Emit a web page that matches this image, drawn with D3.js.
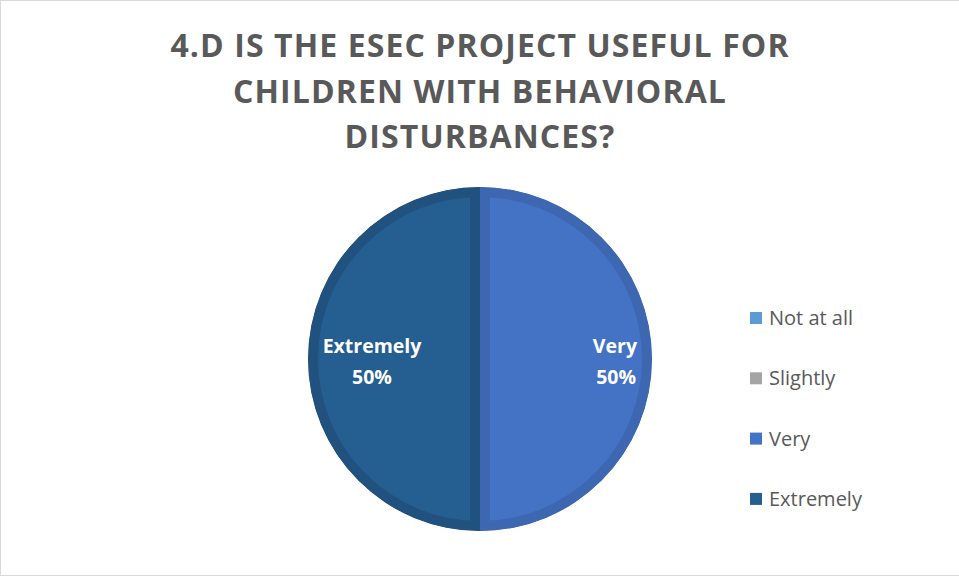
<!DOCTYPE html>
<html>
<head>
<meta charset="utf-8">
<script src="https://cdn.jsdelivr.net/npm/d3@7"></script>
<style>
  body { margin: 0; background: #fff; }
  svg { display: block; }
</style>
</head>
<body>
<div id="chart"></div>
<script>
const titleLines = ["4.D IS THE ESEC PROJECT USEFUL FOR", "CHILDREN WITH BEHAVIORAL", "DISTURBANCES?"];
const categories = ["Not at all", "Slightly", "Very", "Extremely"];
const values = [0, 0, 50, 50];
const fills = ["#5B9BD5", "#A5A5A5", "#4472C4", "#255E91"];
const edges = ["#5089BD", "#939393", "#3E67B1", "#21527F"];

const width = 959;
const height = 577;
const cx = 480, cy = 359, radius = 172;

const svg = d3.select("#chart")
  .append("svg")
  .attr("width", width)
  .attr("height", height);

svg.append("rect")
  .attr("x", 0.5).attr("y", 0.5)
  .attr("width", width).attr("height", 575)
  .attr("fill", "#fff")
  .attr("stroke", "#d9d9d9");

svg.append("g")
  .selectAll("text")
  .data(titleLines)
  .join("text")
  .attr("x", 480)
  .attr("y", (d, i) => 57 + i * 45.5)
  .attr("text-anchor", "middle")
  .attr("font-family", "'Open Sans', sans-serif")
  .attr("font-weight", "bold")
  .attr("font-size", 32)
  .attr("letter-spacing", 1.1)
  .attr("fill", "#595959")
  .text(d => d);

const data = categories.map((c, i) => ({ name: c, value: values[i], fill: fills[i], edge: edges[i] }));

// Excel starts at 12 o'clock and goes clockwise
const pie = d3.pie().sort(null).value(d => d.value);
const arcs = pie(data).filter(d => d.data.value > 0);

const arc = d3.arc().innerRadius(0).outerRadius(radius);

const g = svg.append("g").attr("transform", `translate(${cx},${cy})`);
const defs = svg.append("defs");

arcs.forEach((d, i) => {
  defs.append("clipPath")
    .attr("id", "clip" + i)
    .append("path")
    .attr("d", arc(d));
  g.append("path")
    .attr("d", arc(d))
    .attr("fill", d.data.fill)
    .attr("stroke", d.data.edge)
    .attr("stroke-width", 20)
    .attr("clip-path", `url(#clip${i})`);
});

// data labels
const labelPos = {
  "Very": { x: 157, anchor: "end" },
  "Extremely": { x: -108, anchor: "middle" }
};
const labels = g.append("g")
  .selectAll("text")
  .data(arcs)
  .join("text")
  .attr("text-anchor", d => labelPos[d.data.name].anchor)
  .attr("font-family", "'Open Sans', sans-serif")
  .attr("font-weight", "bold")
  .attr("font-size", 19.5)
  .attr("fill", "#fff");
labels.append("tspan")
  .attr("x", d => labelPos[d.data.name].x)
  .attr("y", -6)
  .text(d => d.data.name);
labels.append("tspan")
  .attr("x", d => labelPos[d.data.name].x - (labelPos[d.data.name].anchor === "end" ? 1 : 0))
  .attr("y", 25)
  .text(d => d3.format(".0%")(d.data.value / d3.sum(values)));

// legend
const legend = svg.append("g")
  .selectAll("g")
  .data(data)
  .join("g")
  .attr("transform", (d, i) => `translate(750,${318 + i * 60.3})`);
legend.append("rect")
  .attr("x", 0).attr("y", -6)
  .attr("width", 12).attr("height", 12)
  .attr("fill", d => d.fill);
legend.append("text")
  .attr("x", 19)
  .attr("y", 7)
  .attr("font-family", "'Open Sans', sans-serif")
  .attr("font-size", 20)
  .attr("fill", "#595959")
  .text(d => d.name);
</script>
</body>
</html>
